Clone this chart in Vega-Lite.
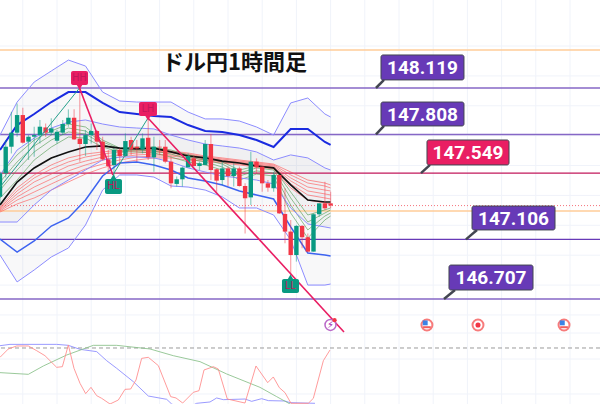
{"$schema":"https://vega.github.io/schema/vega-lite/v6.json","width":600,"height":404,"autosize":{"type":"none"},"padding":0,"background":"#ffffff","config":{"view":{"stroke":null}},
"datasets":{
"vgrid":[{"bar":4},{"bar":10},{"bar":16},{"bar":22},{"bar":28},{"bar":34},{"bar":40},{"bar":46},{"bar":52},{"bar":58},{"bar":64},{"bar":70},{"bar":76},{"bar":82},{"bar":88},{"bar":94},{"bar":100}],
"hgrid":[{"p":148.4},{"p":148.2},{"p":148.0},{"p":147.8},{"p":147.6},{"p":147.4},{"p":147.2},{"p":147.0},{"p":146.8},{"p":146.6},{"p":146.479},{"p":146.305},{"p":146.071}],
"bands":[
{"bar":0,"uo":147.804,"ub":147.704,"ui":147.537,"mid":147.336,"li":147.222,"lb":147.108,"lo":147.001,"r1":147.323,"r2":147.316,"r3":147.309,"r4":147.303,"r5":147.296,"r6":147.289,"g1":147.537,"g2":147.490,"g3":147.436,"g4":147.383},
{"bar":3,"uo":148.025,"ub":147.871,"ui":147.704,"mid":147.490,"li":147.222,"lb":147.021,"lo":146.821,"r1":147.450,"r2":147.430,"r3":147.410,"r4":147.390,"r5":147.369,"r6":147.343,"g1":147.671,"g2":147.624,"g3":147.570,"g4":147.503},
{"bar":6,"uo":148.159,"ub":147.945,"ui":147.784,"mid":147.584,"li":147.336,"lb":147.095,"lo":146.901,"r1":147.537,"r2":147.517,"r3":147.490,"r4":147.456,"r5":147.423,"r6":147.383,"g1":147.771,"g2":147.731,"g3":147.691,"g4":147.637},
{"bar":9,"uo":148.233,"ub":148.025,"ui":147.851,"mid":147.651,"li":147.436,"lb":147.195,"lo":146.988,"r1":147.604,"r2":147.577,"r3":147.543,"r4":147.510,"r5":147.477,"r6":147.436,"g1":147.831,"g2":147.804,"g3":147.771,"g4":147.724},
{"bar":12,"uo":148.306,"ub":148.092,"ui":147.891,"mid":147.691,"li":147.503,"lb":147.249,"lo":147.048,"r1":147.651,"r2":147.624,"r3":147.597,"r4":147.564,"r5":147.530,"r6":147.490,"g1":147.878,"g2":147.851,"g3":147.825,"g4":147.791},
{"bar":15,"uo":148.266,"ub":148.092,"ui":147.905,"mid":147.724,"li":147.570,"lb":147.369,"lo":147.202,"r1":147.677,"r2":147.657,"r3":147.630,"r4":147.604,"r5":147.577,"r6":147.543,"g1":147.858,"g2":147.831,"g3":147.811,"g4":147.784},
{"bar":18,"uo":148.092,"ub":148.019,"ui":147.878,"mid":147.731,"li":147.637,"lb":147.530,"lo":147.436,"r1":147.691,"r2":147.677,"r3":147.657,"r4":147.637,"r5":147.610,"r6":147.584,"g1":147.771,"g2":147.758,"g3":147.744,"g4":147.724},
{"bar":21,"uo":148.032,"ub":147.958,"ui":147.858,"mid":147.717,"li":147.657,"lb":147.617,"lo":147.537,"r1":147.704,"r2":147.691,"r3":147.671,"r4":147.657,"r5":147.637,"r6":147.617,"g1":147.717,"g2":147.711,"g3":147.697,"g4":147.691},
{"bar":24,"uo":148.025,"ub":147.945,"ui":147.851,"mid":147.711,"li":147.657,"lb":147.624,"lo":147.537,"r1":147.704,"r2":147.697,"r3":147.684,"r4":147.671,"r5":147.657,"r6":147.637,"g1":147.724,"g2":147.717,"g3":147.704,"g4":147.691},
{"bar":27,"uo":148.025,"ub":147.932,"ui":147.845,"mid":147.717,"li":147.651,"lb":147.604,"lo":147.523,"r1":147.704,"r2":147.697,"r3":147.691,"r4":147.677,"r5":147.664,"r6":147.651,"g1":147.724,"g2":147.711,"g3":147.697,"g4":147.684},
{"bar":30,"uo":148.025,"ub":147.925,"ui":147.804,"mid":147.691,"li":147.624,"lb":147.570,"lo":147.463,"r1":147.697,"r2":147.691,"r3":147.684,"r4":147.671,"r5":147.664,"r6":147.651,"g1":147.704,"g2":147.691,"g3":147.677,"g4":147.657},
{"bar":33,"uo":147.958,"ub":147.871,"ui":147.771,"mid":147.664,"li":147.584,"lb":147.517,"lo":147.456,"r1":147.684,"r2":147.677,"r3":147.671,"r4":147.664,"r5":147.651,"r6":147.637,"g1":147.671,"g2":147.657,"g3":147.644,"g4":147.624},
{"bar":36,"uo":147.912,"ub":147.831,"ui":147.744,"mid":147.651,"li":147.557,"lb":147.497,"lo":147.436,"r1":147.664,"r2":147.657,"r3":147.651,"r4":147.644,"r5":147.637,"r6":147.630,"g1":147.651,"g2":147.637,"g3":147.624,"g4":147.604},
{"bar":39,"uo":147.912,"ub":147.825,"ui":147.731,"mid":147.630,"li":147.530,"lb":147.470,"lo":147.390,"r1":147.651,"r2":147.644,"r3":147.637,"r4":147.630,"r5":147.624,"r6":147.617,"g1":147.624,"g2":147.610,"g3":147.590,"g4":147.570},
{"bar":42,"uo":147.898,"ub":147.804,"ui":147.717,"mid":147.617,"li":147.517,"lb":147.430,"lo":147.316,"r1":147.637,"r2":147.630,"r3":147.624,"r4":147.617,"r5":147.610,"r6":147.604,"g1":147.570,"g2":147.550,"g3":147.530,"g4":147.503},
{"bar":45,"uo":147.858,"ub":147.771,"ui":147.691,"mid":147.597,"li":147.503,"lb":147.403,"lo":147.316,"r1":147.624,"r2":147.617,"r3":147.610,"r4":147.604,"r5":147.597,"r6":147.590,"g1":147.597,"g2":147.584,"g3":147.564,"g4":147.543},
{"bar":48,"uo":147.804,"ub":147.724,"ui":147.637,"mid":147.584,"li":147.477,"lb":147.376,"lo":147.269,"r1":147.610,"r2":147.604,"r3":147.597,"r4":147.590,"r5":147.584,"r6":147.577,"g1":147.584,"g2":147.570,"g3":147.550,"g4":147.530},
{"bar":51,"uo":148.019,"ub":147.845,"ui":147.671,"mid":147.470,"li":147.316,"lb":147.189,"lo":147.102,"r1":147.557,"r2":147.537,"r3":147.517,"r4":147.497,"r5":147.477,"r6":147.450,"g1":147.423,"g2":147.383,"g3":147.336,"g4":147.282},
{"bar":54,"uo":148.052,"ub":147.845,"ui":147.651,"mid":147.369,"li":147.209,"lb":147.015,"lo":146.800,"r1":147.503,"r2":147.483,"r3":147.456,"r4":147.430,"r5":147.403,"r6":147.369,"g1":147.269,"g2":147.222,"g3":147.169,"g4":147.115},
{"bar":57,"uo":147.945,"ub":147.758,"ui":147.584,"mid":147.356,"li":147.189,"lb":147.001,"lo":146.800,"r1":147.483,"r2":147.463,"r3":147.436,"r4":147.410,"r5":147.383,"r6":147.349,"g1":147.303,"g2":147.282,"g3":147.262,"g4":147.236},
{"bar":58,"uo":147.925,"ub":147.738,"ui":147.570,"mid":147.356,"li":147.182,"lb":146.995,"lo":146.807,"r1":147.470,"r2":147.450,"r3":147.430,"r4":147.403,"r5":147.376,"r6":147.343,"g1":147.316,"g2":147.303,"g3":147.282,"g4":147.262}
],
"candles":[
{"bar":0,"o":147.391,"h":147.56,"l":147.35,"c":147.548},{"bar":1,"o":147.548,"h":147.771,"l":147.52,"c":147.726},{"bar":2,"o":147.726,"h":147.96,"l":147.681,"c":147.82},{"bar":3,"o":147.82,"h":148.016,"l":147.793,"c":147.938},{"bar":4,"o":147.938,"h":147.987,"l":147.748,"c":147.753},{"bar":5,"o":147.76,"h":147.804,"l":147.637,"c":147.793},{"bar":6,"o":147.793,"h":147.86,"l":147.659,"c":147.804},{"bar":7,"o":147.804,"h":147.905,"l":147.748,"c":147.86},{"bar":8,"o":147.855,"h":147.882,"l":147.793,"c":147.82},{"bar":9,"o":147.82,"h":147.916,"l":147.804,"c":147.849},
{"bar":10,"o":147.766,"h":147.838,"l":147.748,"c":147.826},{"bar":11,"o":147.82,"h":147.905,"l":147.804,"c":147.878},{"bar":12,"o":147.878,"h":147.976,"l":147.86,"c":147.92},{"bar":13,"o":147.92,"h":147.976,"l":147.771,"c":147.775},{"bar":14,"o":147.78,"h":148.217,"l":147.626,"c":147.744},{"bar":15,"o":147.744,"h":147.838,"l":147.664,"c":147.804},{"bar":16,"o":147.804,"h":147.882,"l":147.748,"c":147.831},{"bar":17,"o":147.831,"h":147.838,"l":147.704,"c":147.76},{"bar":18,"o":147.76,"h":147.793,"l":147.632,"c":147.641},{"bar":19,"o":147.641,"h":147.704,"l":147.548,"c":147.597},
{"bar":20,"o":147.603,"h":147.715,"l":147.525,"c":147.704},{"bar":21,"o":147.704,"h":147.715,"l":147.603,"c":147.664},{"bar":22,"o":147.664,"h":147.815,"l":147.659,"c":147.764},{"bar":23,"o":147.771,"h":147.793,"l":147.67,"c":147.708},{"bar":24,"o":147.726,"h":147.771,"l":147.626,"c":147.715},{"bar":25,"o":147.708,"h":147.815,"l":147.681,"c":147.782},{"bar":26,"o":147.786,"h":147.927,"l":147.637,"c":147.655},{"bar":27,"o":147.655,"h":147.793,"l":147.559,"c":147.726},{"bar":28,"o":147.726,"h":147.771,"l":147.67,"c":147.722},{"bar":29,"o":147.726,"h":147.771,"l":147.615,"c":147.626},
{"bar":30,"o":147.626,"h":147.66,"l":147.448,"c":147.481},{"bar":31,"o":147.477,"h":147.526,"l":147.459,"c":147.508},{"bar":32,"o":147.508,"h":147.593,"l":147.459,"c":147.586},{"bar":33,"o":147.588,"h":147.682,"l":147.588,"c":147.664},{"bar":34,"o":147.648,"h":147.664,"l":147.593,"c":147.597},{"bar":35,"o":147.597,"h":147.626,"l":147.57,"c":147.615},{"bar":36,"o":147.604,"h":147.771,"l":147.604,"c":147.744},{"bar":37,"o":147.744,"h":147.811,"l":147.503,"c":147.57},{"bar":38,"o":147.575,"h":147.581,"l":147.425,"c":147.499},{"bar":39,"o":147.503,"h":147.626,"l":147.47,"c":147.581},
{"bar":40,"o":147.581,"h":147.593,"l":147.463,"c":147.53},{"bar":41,"o":147.53,"h":147.615,"l":147.459,"c":147.581},{"bar":42,"o":147.581,"h":147.593,"l":147.459,"c":147.463},{"bar":43,"o":147.463,"h":147.481,"l":147.146,"c":147.381},{"bar":44,"o":147.387,"h":147.693,"l":147.336,"c":147.626},{"bar":45,"o":147.626,"h":147.648,"l":147.548,"c":147.588},{"bar":46,"o":147.593,"h":147.593,"l":147.425,"c":147.481},{"bar":47,"o":147.481,"h":147.503,"l":147.425,"c":147.452},{"bar":48,"o":147.448,"h":147.559,"l":147.425,"c":147.537},{"bar":49,"o":147.537,"h":147.537,"l":147.276,"c":147.28},
{"bar":50,"o":147.276,"h":147.448,"l":147.08,"c":147.158},{"bar":51,"o":147.158,"h":147.236,"l":146.868,"c":147.001},{"bar":52,"o":147.001,"h":147.202,"l":146.957,"c":147.196},{"bar":53,"o":147.196,"h":147.202,"l":147.046,"c":147.12},{"bar":54,"o":147.12,"h":147.146,"l":147.019,"c":147.024},{"bar":55,"o":147.024,"h":147.28,"l":147.024,"c":147.274},{"bar":56,"o":147.274,"h":147.347,"l":147.258,"c":147.347},{"bar":57,"o":147.347,"h":147.492,"l":147.303,"c":147.314},{"bar":58,"o":147.347,"h":147.425,"l":147.314,"c":147.332}
],
"trends":[
{"id":"g1","bar":0,"p":147.456},{"id":"g1","bar":13.95,"p":148.119},
{"id":"g2","bar":19.8,"p":147.537},{"id":"g2","bar":25.96,"p":147.918},
{"id":"p1","bar":13.95,"p":148.119},{"id":"p1","bar":19.8,"p":147.537},
{"id":"p2","bar":25.96,"p":147.918},{"id":"p2","bar":60.35,"p":146.486}
],
"markers":[
{"lab":"HH","x0":12.46,"x1":15.44,"p0":148.233,"p1":148.139,"bar":13.95,"pt":148.186,"tp":148.132,"kind":"sell"},
{"lab":"LH","x0":24.39,"x1":27.54,"p0":148.025,"p1":147.932,"bar":25.96,"pt":147.978,"tp":147.925,"kind":"sell"},
{"lab":"HL","x0":18.42,"x1":21.4,"p0":147.51,"p1":147.41,"bar":19.91,"pt":147.46,"tp":147.517,"kind":"buy"},
{"lab":"LL","x0":49.47,"x1":52.46,"p0":146.841,"p1":146.747,"bar":50.96,"pt":146.794,"tp":146.847,"kind":"buy"}
],
"callouts":[
{"lab":"148.119","x0":66.84,"x1":81.4,"p0":148.34,"p1":148.173,"tx":74.12,"pt":148.252,"tipx":65.96,"tipp":148.119,"topx":67.37,"topp":148.173,"col":"v"},
{"lab":"147.808","x0":66.84,"x1":81.4,"p0":148.025,"p1":147.865,"tx":74.12,"pt":147.941,"tipx":65.96,"tipp":147.808,"topx":67.37,"topp":147.865,"col":"v"},
{"lab":"147.549","x0":74.91,"x1":89.3,"p0":147.771,"p1":147.604,"tx":82.1,"pt":147.683,"tipx":73.86,"tipp":147.549,"topx":75.44,"topp":147.604,"col":"r"},
{"lab":"147.106","x0":82.81,"x1":97.37,"p0":147.329,"p1":147.169,"tx":90.09,"pt":147.245,"tipx":81.75,"tipp":147.106,"topx":83.68,"topp":147.169,"col":"v"},
{"lab":"146.707","x0":78.77,"x1":93.51,"p0":146.934,"p1":146.767,"tx":86.14,"pt":146.847,"tipx":77.89,"tipp":146.707,"topx":79.82,"topp":146.767,"col":"v"}
],
"osc":[
{"s":"k","bar":0,"v":83.3},{"s":"k","bar":1.75,"v":85.2},{"s":"k","bar":9.94,"v":85.2},{"s":"k","bar":11.99,"v":83.8},{"s":"k","bar":14.04,"v":78.1},{"s":"k","bar":16.96,"v":74.8},{"s":"k","bar":18.71,"v":61.9},{"s":"k","bar":20.47,"v":51},{"s":"k","bar":23.39,"v":31.9},{"s":"k","bar":26.02,"v":11.4},{"s":"k","bar":29.24,"v":6.7},{"s":"k","bar":30.12,"v":0},{"s":"k","bar":32.34,"v":-8},{"s":"k","bar":34.5,"v":1},{"s":"k","bar":36.84,"v":2.9},{"s":"k","bar":38.01,"v":8.6},{"s":"k","bar":39.18,"v":6.2},{"s":"k","bar":42.98,"v":7.1},{"s":"k","bar":44.15,"v":3.8},{"s":"k","bar":45.91,"v":7.6},{"s":"k","bar":47.08,"v":4.8},{"s":"k","bar":50,"v":4.3},{"s":"k","bar":50.88,"v":1.9},{"s":"k","bar":55.26,"v":1},
{"s":"g","bar":0,"v":44.8},{"s":"g","bar":4.97,"v":42.4},{"s":"g","bar":7.6,"v":54.3},{"s":"g","bar":11.7,"v":70},{"s":"g","bar":16.37,"v":83.8},{"s":"g","bar":20.47,"v":83.8},{"s":"g","bar":26.32,"v":78.6},{"s":"g","bar":30.41,"v":69},{"s":"g","bar":35.09,"v":60.5},{"s":"g","bar":39.77,"v":42.9},{"s":"g","bar":45.61,"v":23.8},{"s":"g","bar":48.54,"v":10.5},{"s":"g","bar":50.88,"v":0},{"s":"g","bar":52.63,"v":-8.6},
{"s":"r","bar":0,"v":66.7},{"s":"r","bar":1.46,"v":78.6},{"s":"r","bar":2.92,"v":82.9},{"s":"r","bar":4.97,"v":82.9},{"s":"r","bar":6.43,"v":76.2},{"s":"r","bar":7.89,"v":69},{"s":"r","bar":9.94,"v":52.4},{"s":"r","bar":10.94,"v":53.3},{"s":"r","bar":11.99,"v":84.3},{"s":"r","bar":12.98,"v":51},{"s":"r","bar":14.04,"v":29.5},{"s":"r","bar":15.03,"v":14.8},{"s":"r","bar":15.96,"v":23.8},{"s":"r","bar":16.96,"v":11.9},{"s":"r","bar":17.84,"v":8.1},{"s":"r","bar":19.3,"v":0},{"s":"r","bar":20.76,"v":5.7},{"s":"r","bar":21.93,"v":20.95},{"s":"r","bar":22.92,"v":21.4},{"s":"r","bar":23.86,"v":34.3},{"s":"r","bar":24.85,"v":65.2},{"s":"r","bar":26.02,"v":66.7},{"s":"r","bar":27.78,"v":54.8},{"s":"r","bar":29.94,"v":10.5},{"s":"r","bar":30.88,"v":8.6},{"s":"r","bar":32.05,"v":1.4},{"s":"r","bar":33.92,"v":16.7},{"s":"r","bar":34.91,"v":19},{"s":"r","bar":35.79,"v":48.6},{"s":"r","bar":37.43,"v":53.3},{"s":"r","bar":38.3,"v":50},{"s":"r","bar":39.88,"v":7.1},{"s":"r","bar":42.98,"v":1.4},{"s":"r","bar":44.91,"v":54.3},{"s":"r","bar":46.96,"v":30.5},{"s":"r","bar":47.95,"v":38.6},{"s":"r","bar":49.01,"v":23.3},{"s":"r","bar":50,"v":16.2},{"s":"r","bar":51.05,"v":1},{"s":"r","bar":54.09,"v":1},{"s":"r","bar":54.97,"v":8.1},{"s":"r","bar":56.73,"v":61.9},{"s":"r","bar":57.89,"v":77.1}
]
},
"layer":[
{"layer":[
{"data":{"name":"vgrid"},"mark":{"type":"rule","color":"#f0f3fa","strokeWidth":1},"encoding":{"x":{"field":"bar","type":"quantitative","scale":{"domain":[0,105.263],"nice":false,"zero":false},"axis":null}}},
{"data":{"name":"hgrid"},"mark":{"type":"rule","color":"#f0f3fa","strokeWidth":1},"encoding":{"y":{"field":"p","type":"quantitative","scale":{"domain":[146.004,148.708],"nice":false,"zero":false},"axis":null}}},
{"data":{"name":"bands"},"mark":{"type":"area","color":"#787b86","opacity":0.05},"encoding":{"x":{"field":"bar","type":"quantitative","axis":null},"y":{"field":"uo","type":"quantitative","axis":null},"y2":{"field":"lo"}}},
{"data":{"name":"bands"},"mark":{"type":"area","color":"#787b86","opacity":0.06},"encoding":{"x":{"field":"bar","type":"quantitative","axis":null},"y":{"field":"ui","type":"quantitative","axis":null},"y2":{"field":"li"}}},
{"data":{"values":[{"p":148.373},{"p":147.296}]},"mark":{"type":"rule","color":"#ffcc99","strokeWidth":1.5},"encoding":{"y":{"field":"p","type":"quantitative","axis":null}}},
{"data":{"values":[{"p":148.119},{"p":147.808},{"p":146.707}]},"mark":{"type":"rule","color":"#8667c6","strokeWidth":1.5},"encoding":{"y":{"field":"p","type":"quantitative","axis":null}}},
{"data":{"values":[{"p":147.106}]},"mark":{"type":"rule","color":"#673ab7","strokeWidth":1.2},"encoding":{"y":{"field":"p","type":"quantitative","axis":null}}},
{"data":{"values":[{"p":147.549}]},"mark":{"type":"rule","color":"#c2185b","strokeWidth":1.2},"encoding":{"y":{"field":"p","type":"quantitative","axis":null}}},
{"data":{"values":[{"p":147.332}]},"mark":{"type":"rule","color":"#f23645","strokeWidth":1,"strokeDash":[1,2],"opacity":0.7},"encoding":{"y":{"field":"p","type":"quantitative","axis":null}}},
{"data":{"name":"bands"},"transform":[{"fold":["r1","r2","r3","r4","r5","r6"],"as":["s","p"]}],"mark":{"type":"line","color":"#ff5252","strokeWidth":1,"opacity":0.6},"encoding":{"x":{"field":"bar","type":"quantitative","axis":null},"y":{"field":"p","type":"quantitative","axis":null},"detail":{"field":"s"}}},
{"data":{"name":"bands"},"transform":[{"fold":["g1","g2","g3","g4"],"as":["s","p"]}],"mark":{"type":"line","color":"#4c9a4c","strokeWidth":1,"opacity":0.6},"encoding":{"x":{"field":"bar","type":"quantitative","axis":null},"y":{"field":"p","type":"quantitative","axis":null},"detail":{"field":"s"}}},
{"data":{"name":"bands"},"transform":[{"fold":["uo","ui","li","lo"],"as":["s","p"]}],"mark":{"type":"line","color":"#8c8cff","strokeWidth":1},"encoding":{"x":{"field":"bar","type":"quantitative","axis":null},"y":{"field":"p","type":"quantitative","axis":null},"detail":{"field":"s"}}},
{"data":{"name":"bands"},"transform":[{"fold":["ub"],"as":["s","p"]}],"mark":{"type":"line","color":"#1a2be0","strokeWidth":2},"encoding":{"x":{"field":"bar","type":"quantitative","axis":null},"y":{"field":"p","type":"quantitative","axis":null},"detail":{"field":"s"}}},
{"data":{"name":"bands"},"transform":[{"fold":["lb"],"as":["s","p"]}],"mark":{"type":"line","color":"#3d63f0","strokeWidth":1.5},"encoding":{"x":{"field":"bar","type":"quantitative","axis":null},"y":{"field":"p","type":"quantitative","axis":null},"detail":{"field":"s"}}},
{"data":{"name":"bands"},"mark":{"type":"line","color":"#111111","strokeWidth":1.7},"encoding":{"x":{"field":"bar","type":"quantitative","axis":null},"y":{"field":"mid","type":"quantitative","axis":null}}},
{"data":{"name":"candles"},"transform":[{"calculate":"datum.c>=datum.o?'up':'down'","as":"dir"}],"mark":{"type":"rule","strokeWidth":1.2,"opacity":0.45},"encoding":{"x":{"field":"bar","type":"quantitative","axis":null},"y":{"field":"h","type":"quantitative","axis":null},"y2":{"field":"l"},"color":{"field":"dir","type":"nominal","legend":null,"scale":{"domain":["up","down"],"range":["#089981","#f23645"]}}}},
{"data":{"name":"candles"},"transform":[{"calculate":"datum.c>=datum.o?'up':'down'","as":"dir"}],"mark":{"type":"rule","strokeWidth":4.4},"encoding":{"x":{"field":"bar","type":"quantitative","axis":null},"y":{"field":"o","type":"quantitative","axis":null},"y2":{"field":"c"},"color":{"field":"dir","type":"nominal","legend":null,"scale":{"domain":["up","down"],"range":["#089981","#f23645"]}}}},
{"data":{"name":"trends"},"transform":[{"filter":"datum.id[0]=='g'"}],"mark":{"type":"line","color":"#26a08a","strokeWidth":1},"encoding":{"x":{"field":"bar","type":"quantitative","axis":null},"y":{"field":"p","type":"quantitative","axis":null},"detail":{"field":"id"}}},
{"data":{"name":"trends"},"transform":[{"filter":"datum.id[0]=='p'"}],"mark":{"type":"line","color":"#e91e63","strokeWidth":1.6},"encoding":{"x":{"field":"bar","type":"quantitative","axis":null},"y":{"field":"p","type":"quantitative","axis":null},"detail":{"field":"id"}}},
{"data":{"name":"markers"},"transform":[{"filter":"datum.kind=='sell'"}],"mark":{"type":"rect","cornerRadius":2,"color":"#e91e63"},"encoding":{"x":{"field":"x0","type":"quantitative","axis":null},"x2":{"field":"x1"},"y":{"field":"p0","type":"quantitative","axis":null},"y2":{"field":"p1"}}},
{"data":{"name":"markers"},"transform":[{"filter":"datum.kind=='buy'"}],"mark":{"type":"rect","cornerRadius":2,"color":"#089981"},"encoding":{"x":{"field":"x0","type":"quantitative","axis":null},"x2":{"field":"x1"},"y":{"field":"p0","type":"quantitative","axis":null},"y2":{"field":"p1"}}},
{"data":{"name":"markers"},"transform":[{"filter":"datum.kind=='sell'"}],"mark":{"type":"point","shape":"triangle-down","filled":true,"size":70,"opacity":1,"color":"#e91e63"},"encoding":{"x":{"field":"bar","type":"quantitative","axis":null},"y":{"field":"tp","type":"quantitative","axis":null}}},
{"data":{"name":"markers"},"transform":[{"filter":"datum.kind=='buy'"}],"mark":{"type":"point","shape":"triangle-up","filled":true,"size":70,"opacity":1,"color":"#089981"},"encoding":{"x":{"field":"bar","type":"quantitative","axis":null},"y":{"field":"tp","type":"quantitative","axis":null}}},
{"data":{"name":"markers"},"mark":{"type":"text","font":"Roboto","fontSize":10,"align":"center","baseline":"middle","color":"#c2185b"},"encoding":{"x":{"field":"bar","type":"quantitative","axis":null},"y":{"field":"pt","type":"quantitative","axis":null},"text":{"field":"lab"}}},
{"data":{"values":[{"bar":74.9,"p":146.533},{"bar":83.86,"p":146.533},{"bar":98.95,"p":146.533}]},"mark":{"type":"point","shape":"circle","filled":false,"size":120,"fill":"#ffffff","fillOpacity":1,"stroke":"#f77b7b","strokeWidth":2,"opacity":1},"encoding":{"x":{"field":"bar","type":"quantitative","axis":null},"y":{"field":"p","type":"quantitative","axis":null}}},
{"data":{"values":[{"bar":74.6,"p":146.547},{"bar":98.65,"p":146.547}]},"mark":{"type":"point","shape":"square","filled":true,"size":24,"color":"#3b82e6","opacity":1},"encoding":{"x":{"field":"bar","type":"quantitative","axis":null},"y":{"field":"p","type":"quantitative","axis":null}}},
{"data":{"values":[{"bar":74.9,"p":146.518},{"bar":98.95,"p":146.518}]},"mark":{"type":"point","shape":"stroke","size":60,"stroke":"#f25f5f","strokeWidth":2,"opacity":1},"encoding":{"x":{"field":"bar","type":"quantitative","axis":null},"y":{"field":"p","type":"quantitative","axis":null}}},
{"data":{"values":[{"bar":83.86,"p":146.533}]},"mark":{"type":"point","shape":"circle","filled":true,"size":26,"color":"#f23645","opacity":1},"encoding":{"x":{"field":"bar","type":"quantitative","axis":null},"y":{"field":"p","type":"quantitative","axis":null}}},
{"data":{"values":[{"bar":57.98,"p":146.533}]},"mark":{"type":"point","shape":"circle","filled":false,"size":120,"fill":"#ffffff","fillOpacity":1,"stroke":"#ba68c8","strokeWidth":1.5,"opacity":1},"encoding":{"x":{"field":"bar","type":"quantitative","axis":null},"y":{"field":"p","type":"quantitative","axis":null}}},
{"data":{"values":[{"bar":57.98,"p":146.533,"t":"⚡"}]},"mark":{"type":"text","fontSize":10,"fontWeight":700,"font":"DejaVu Sans","align":"center","baseline":"middle","color":"#9c27b0"},"encoding":{"x":{"field":"bar","type":"quantitative","axis":null},"y":{"field":"p","type":"quantitative","axis":null},"text":{"field":"t"}}},
{"data":{"values":[{"bar":58.7,"p":146.565}]},"mark":{"type":"point","shape":"circle","filled":true,"size":18,"color":"#f23645","opacity":1},"encoding":{"x":{"field":"bar","type":"quantitative","axis":null},"y":{"field":"p","type":"quantitative","axis":null}}},
{"data":{"name":"callouts"},"mark":{"type":"rule","color":"#434651","strokeWidth":2.5},"encoding":{"x":{"field":"tipx","type":"quantitative","axis":null},"x2":{"field":"topx"},"y":{"field":"tipp","type":"quantitative","axis":null},"y2":{"field":"topp"}}},
{"data":{"name":"callouts"},"mark":{"type":"rect","cornerRadius":2,"stroke":"#434651","strokeWidth":1},"encoding":{"x":{"field":"x0","type":"quantitative","axis":null},"x2":{"field":"x1"},"y":{"field":"p0","type":"quantitative","axis":null},"y2":{"field":"p1"},"fill":{"field":"col","type":"nominal","legend":null,"scale":{"domain":["v","r"],"range":["#673ab7","#e91e63"]}}}},
{"data":{"name":"callouts"},"mark":{"type":"text","font":"Roboto","fontWeight":700,"fontSize":19,"align":"center","baseline":"middle","color":"#ffffff"},"encoding":{"x":{"field":"tx","type":"quantitative","axis":null},"y":{"field":"pt","type":"quantitative","axis":null},"text":{"field":"lab"}}},
{"data":{"values":[{"bar":41.14,"p":148.286,"t":"ドル円1時間足"}]},"mark":{"type":"text","font":"Noto Sans CJK JP","fontWeight":700,"fontSize":22,"align":"center","baseline":"middle","color":"#111111"},"encoding":{"x":{"field":"bar","type":"quantitative","axis":null},"y":{"field":"p","type":"quantitative","axis":null},"text":{"field":"t"}}}
]},
{"layer":[
{"data":{"values":[{"v":80}]},"mark":{"type":"rule","color":"#9a9a9a","strokeWidth":1,"strokeDash":[4,3]},"encoding":{"y":{"field":"v","type":"quantitative","scale":{"domain":[0,577.14],"nice":false,"zero":false},"axis":null}}},
{"data":{"name":"osc"},"mark":{"type":"line","strokeWidth":1,"opacity":0.85,"clip":true},"encoding":{"x":{"field":"bar","type":"quantitative","axis":null},"y":{"field":"v","type":"quantitative","scale":{"domain":[0,577.14],"nice":false,"zero":false},"axis":null},"detail":{"field":"s"},"color":{"field":"s","type":"nominal","legend":null,"scale":{"domain":["k","g","r"],"range":["#8888ff","#88bf88","#ff8a8a"]}}}}
]}
],
"resolve":{"scale":{"y":"independent","color":"independent"}}
}
